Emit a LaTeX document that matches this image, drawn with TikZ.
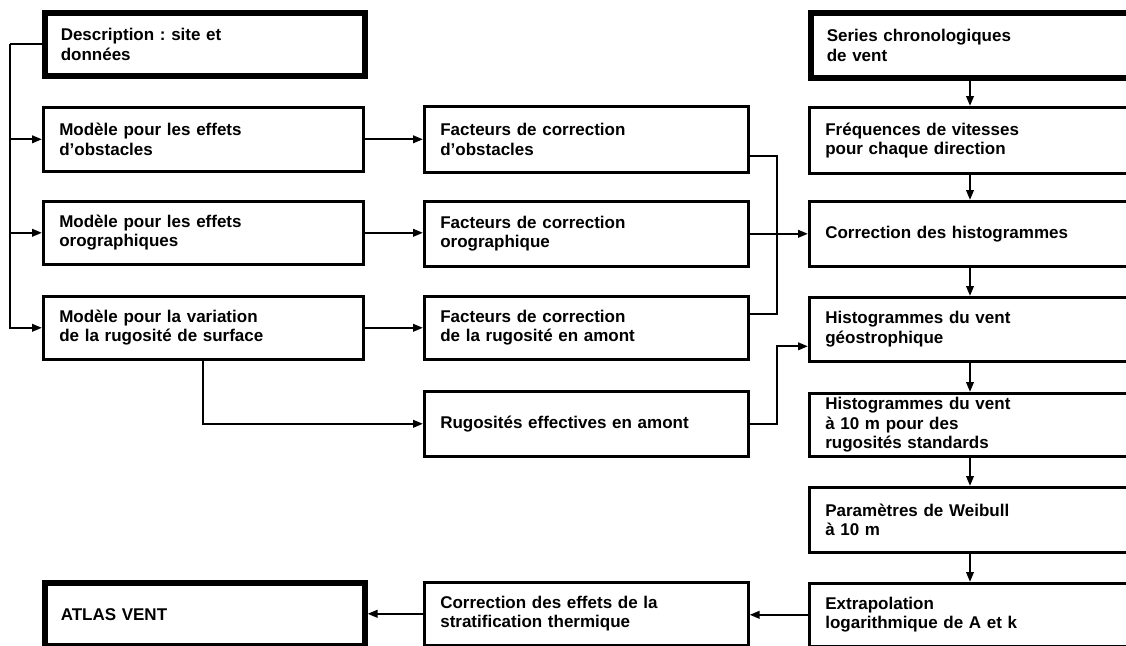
\documentclass[tikz,border=0pt]{standalone}
\usepackage{fontspec}
\setmainfont{Liberation Sans}
\usetikzlibrary{arrows.meta,calc}
\frenchspacing
\begin{document}
\begin{tikzpicture}[x=1pt,y=-1pt,
  box/.style={draw, line width=2.6pt, anchor=north west, align=left,
    inner xsep=16pt, inner ysep=0pt,
    font=\fontsize{17}{19.5}\selectfont\bfseries},
  heavy/.style={box, line width=5.5pt},
  lcol/.style={text width=288pt},
  mcol/.style={text width=292pt},
  rcol/.style={text width=300pt},
  conn/.style={line width=2.2pt},
  arr/.style={conn, -{Triangle[length=10pt,width=7.5pt]}}]
\useasboundingbox (0,0) rectangle (1126,645);
\clip (0,0) rectangle (1126,645);
\fill[white] (0,0) rectangle (1126,645);
% left column
\node[heavy, lcol, minimum height=63pt] (desc) at (42,10) {Description : site et\\données};
\node[box, lcol, minimum height=64pt] (mobs) at (42,106) {Modèle pour les effets\\d'obstacles};
\node[box, lcol, minimum height=63pt] (moro) at (42,200) {Modèle pour les effets\\orographiques};
\node[box, lcol, minimum height=63pt] (mrug) at (42,295) {Modèle pour la variation\\de la rugosité de surface};
\node[heavy, lcol, minimum height=63pt] (atlas) at (42,580) {ATLAS VENT};
% middle column
\node[box, mcol, minimum height=66pt] (fobs) at (423,105) {Facteurs de correction\\d'obstacles};
\node[box, mcol, minimum height=65pt] (foro) at (423,200) {Facteurs de correction\\orographique};
\node[box, mcol, minimum height=63pt] (frug) at (423,295) {Facteurs de correction\\de la rugosité en amont};
\node[box, mcol, minimum height=65pt] (reff) at (423,390) {Rugosités effectives en amont};
\node[box, mcol, minimum height=63pt] (strat) at (423,581) {Correction des effets de la\\stratification thermique};
% right column
\node[heavy, rcol, minimum height=65pt] (series) at (808,10) {Series chronologiques\\de vent};
\node[box, rcol, minimum height=66pt] (freq) at (808,106) {Fréquences de vitesses\\pour chaque direction};
\node[box, rcol, minimum height=65pt] (corh) at (808,200) {Correction des histogrammes};
\node[box, rcol, minimum height=64pt] (hgeo) at (808,296) {Histogrammes du vent\\géostrophique};
\node[box, rcol, minimum height=63pt] (h10) at (808,392) {Histogrammes du vent\\à 10 m pour des\\rugosités standards};
\node[box, rcol, minimum height=65pt] (weib) at (808,486) {Paramètres de Weibull\\à 10 m};
\node[box, rcol, minimum height=63pt] (extr) at (808,582) {Extrapolation\\logarithmique de A et k};
% left bus
\coordinate (bus) at (10,0);
\draw[conn] (desc.west) -- (desc.west -| bus);
\draw[arr] (desc.west -| bus) |- (mrug.west);
\draw[arr] (mobs.west -| bus) -- (mobs.west);
\draw[arr] (moro.west -| bus) -- (moro.west);
% models to factors
\draw[arr] (mobs.east) -- (mobs.east -| fobs.west);
\draw[arr] (moro.east) -- (moro.east -| foro.west);
\draw[arr] (mrug.east) -- (mrug.east -| frug.west);
\draw[arr] (mrug.south) |- (reff.west);
% factors to right column
\coordinate (jx) at (777,0);
\draw[conn] ($(fobs.east)+(0,17)$) -- ($(fobs.east -| jx)+(0,17)$) -- ($(frug.east -| jx)+(0,-14)$) -- ($(frug.east)+(0,-14)$);
\draw[arr] (foro.east) -- (foro.east -| corh.west);
\draw[arr] (reff.east) -- (reff.east -| jx) |- ($(hgeo.west)+(0,17)$);
% right column chain
\coordinate (ax) at (970,0);
\draw[arr] (series.south -| ax) -- (freq.north -| ax);
\draw[arr] (freq.south -| ax) -- (corh.north -| ax);
\draw[arr] (corh.south -| ax) -- (hgeo.north -| ax);
\draw[arr] (hgeo.south -| ax) -- (h10.north -| ax);
\draw[arr] (h10.south -| ax) -- (weib.north -| ax);
\draw[arr] (weib.south -| ax) -- (extr.north -| ax);
% bottom row
\draw[arr] (extr.west) -- (extr.west -| strat.east);
\draw[arr] (strat.west) -- (strat.west -| atlas.east);
\end{tikzpicture}
\end{document}
